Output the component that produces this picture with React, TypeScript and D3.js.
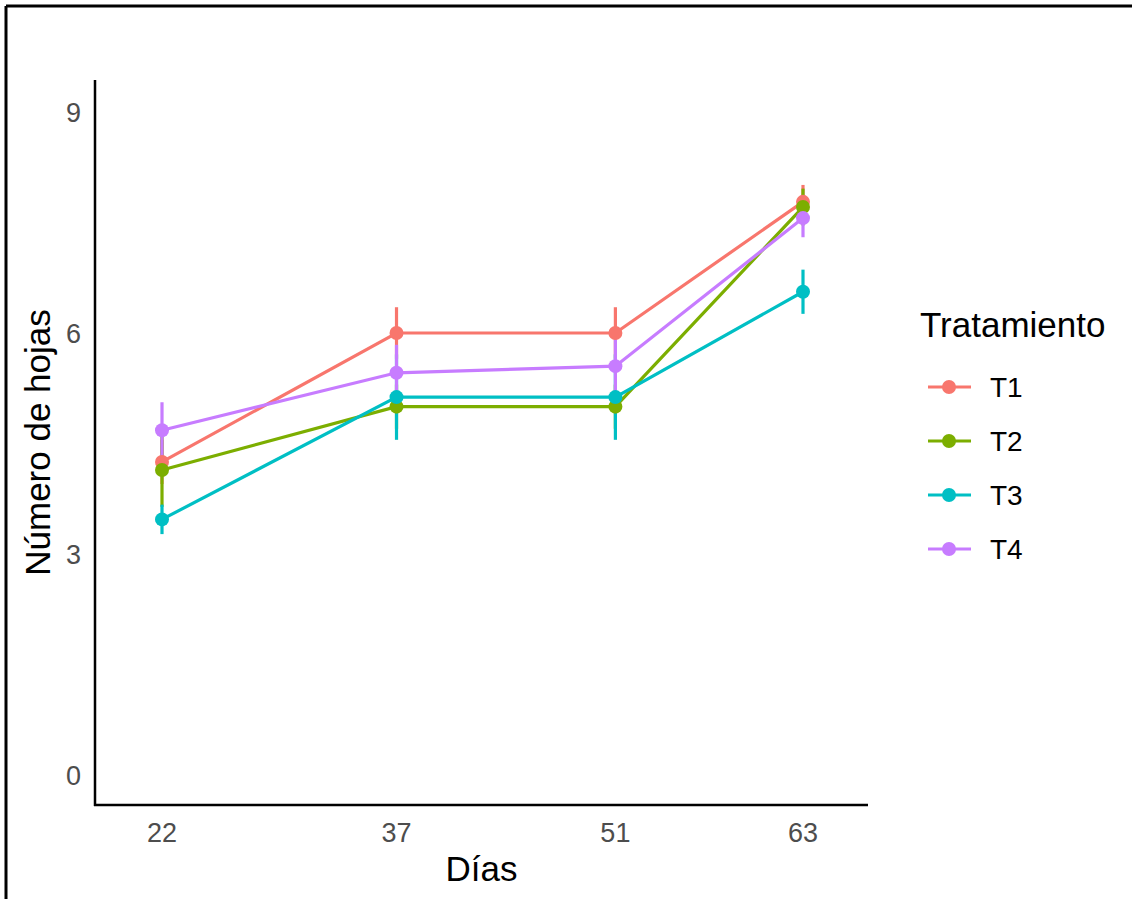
import React from "react";
import * as d3 from "d3";

const days = [22, 37, 51, 63];
const treatments = ["T1", "T2", "T3", "T4"];
const colors = ["#F8766D", "#7CAE00", "#00BFC4", "#C77CFF"];
const t1Mean = [4.25, 6.0, 6.0, 7.78];
const t1Err = [0.3, 0.35, 0.35, 0.23];
const t2Mean = [4.14, 5.0, 5.0, 7.71];
const t2Err = [0.5, 0.3, 0.3, 0.25];
const t3Mean = [3.47, 5.13, 5.13, 6.56];
const t3Err = [0.2, 0.58, 0.58, 0.3];
const t4Mean = [4.68, 5.46, 5.55, 7.56];
const t4Err = [0.38, 0.38, 0.42, 0.26];
const yTicks = [0, 3, 6, 9];

const series = [
  { name: "T1", mean: t1Mean, err: t1Err },
  { name: "T2", mean: t2Mean, err: t2Err },
  { name: "T3", mean: t3Mean, err: t3Err },
  { name: "T4", mean: t4Mean, err: t4Err },
];

export default function App() {
  const W = 1132, H = 899;
  const x = d3.scaleLinear().domain([22, 63]).range([162, 803]);
  const y = d3.scaleLinear().domain([0, 9]).range([775, 112]);
  const axisLeft = 95, axisRight = 868, axisTop = 80, axisBottom = 805;
  const line = d3.line<number>().x((_, i) => x(days[i])).y((d) => y(d));
  const font = "Liberation Sans, Arial, sans-serif";

  return (
    <svg width={W} height={H} style={{ position: "absolute", left: 0, top: 0, background: "#fff" }} fontFamily={font}>
      <rect x={0} y={0} width={W} height={H} fill="#fff" />
      {/* frame */}
      <line x1={6} x2={W} y1={6} y2={6} stroke="#000" strokeWidth={3} />
      <line x1={6} x2={6} y1={6} y2={H} stroke="#000" strokeWidth={3} />

      {/* lines */}
      {series.map((s, si) => (
        <path key={"l" + si} d={line(s.mean) || ""} fill="none" stroke={colors[si]} strokeWidth={3.2} />
      ))}
      {/* error bars */}
      {series.map((s, si) =>
        s.mean.map((m, i) => (
          <line key={"e" + si + "-" + i} x1={x(days[i])} x2={x(days[i])} y1={y(m - s.err[i])} y2={y(m + s.err[i])} stroke={colors[si]} strokeWidth={3.2} />
        ))
      )}
      {/* points */}
      {series.map((s, si) =>
        s.mean.map((m, i) => (
          <circle key={"p" + si + "-" + i} cx={x(days[i])} cy={y(m)} r={7} fill={colors[si]} />
        ))
      )}

      {/* axes */}
      <line x1={axisLeft} x2={axisLeft} y1={axisTop} y2={axisBottom + 1} stroke="#000" strokeWidth={2.5} />
      <line x1={axisLeft - 1} x2={axisRight} y1={axisBottom} y2={axisBottom} stroke="#000" strokeWidth={2.5} />
      {yTicks.map((t) => (
        <text key={"yt" + t} x={81} y={y(t)} dy="0.36em" textAnchor="end" fontSize={27} fill="#4D4D4D">{t}</text>
      ))}
      {days.map((d) => (
        <text key={"xt" + d} x={x(d)} y={842} textAnchor="middle" fontSize={27} fill="#4D4D4D">{d}</text>
      ))}
      <text x={(axisLeft + axisRight) / 2} y={881} textAnchor="middle" fontSize={35} fill="#000">Días</text>
      <text transform={`translate(50, ${(axisTop + axisBottom) / 2}) rotate(-90)`} textAnchor="middle" fontSize={35} fill="#000">Número de hojas</text>

      {/* legend */}
      <text x={920} y={337} fontSize={35} fill="#000">Tratamiento</text>
      {treatments.map((t, i) => {
        const cy = 387 + i * 54;
        return (
          <g key={"lg" + t}>
            <line x1={928} x2={971} y1={cy} y2={cy} stroke={colors[i]} strokeWidth={3.2} />
            <circle cx={949} cy={cy} r={7} fill={colors[i]} />
            <text x={990} y={cy} dy="0.36em" fontSize={28} fill="#000">{t}</text>
          </g>
        );
      })}
    </svg>
  );
}
